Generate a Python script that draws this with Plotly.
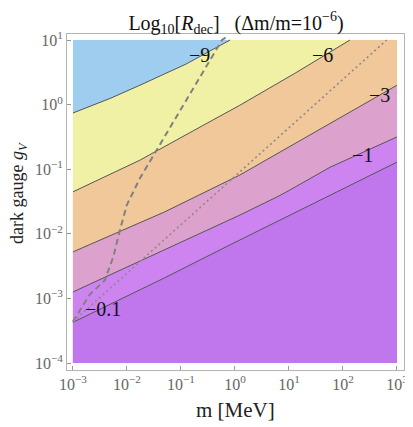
import numpy as np
import plotly.graph_objects as go

# ---- data (log10 m [MeV], log10 g_V) ----
level_names = ["−9", "−6", "−3", "−1", "−0.1"]

c9_logm = [-3.0, -2.3, -1.76, -0.9, -0.09]
c9_logg = [-0.13, 0.10, 0.30, 0.63, 1.0]

c6_logm = [-3.0, -1.76, -0.5, 0.09, 1.1, 2.13]
c6_logg = [-1.35, -0.86, -0.28, -0.01, 0.48, 1.0]

c3_logm = [-3.0, -1.3, 0.09, 1.5, 3.0]
c3_logg = [-2.28, -1.66, -1.09, -0.42, 0.30]

c1_logm = [-3.0, -1.3, 0.09, 0.8, 1.0, 1.76, 3.0]
c1_logg = [-2.90, -2.25, -1.71, -1.42, -1.33, -0.97, -0.50]

c01_logm = [-3.0, -1.3, -0.09, 2.72, 3.0]
c01_logg = [-3.37, -2.68, -2.17, -1.01, -0.89]

dashed_logm = [-3.0, -2.69, -2.41, -2.25, -2.13, -2.0, -1.76, -0.24, -0.15]
dashed_logg = [-3.36, -2.94, -2.72, -2.35, -1.94, -1.55, -1.14, 1.0, 1.05]

dotted_logm = [-3.0, 2.81]
dotted_logg = [-3.36, 1.0]

x_lo, x_hi = -3.0, 3.0
y_lo, y_hi = -4.0, 1.0

contours = [
    (c9_logm, c9_logg),
    (c6_logm, c6_logg),
    (c3_logm, c3_logg),
    (c1_logm, c1_logg),
    (c01_logm, c01_logg),
]

region_colors = ["#9fcdf0", "#f1f1a6", "#f0c899", "#dca2cd", "#cd84f0", "#c077ee"]
line_color = "#555555"
serif = "Liberation Serif, Times New Roman, serif"

fig = go.Figure()

fig.add_trace(go.Scatter(
    x=10.0 ** np.array([x_lo, x_hi, x_hi, x_lo, x_lo]),
    y=10.0 ** np.array([y_lo, y_lo, y_hi, y_hi, y_lo]),
    fill="toself", fillcolor=region_colors[0], mode="lines",
    line=dict(width=0, color=region_colors[0]), hoverinfo="skip", showlegend=False))

for (lm, lg), col in zip(contours, region_colors[1:]):
    px = list(lm)
    py = list(lg)
    if px[-1] < x_hi:
        px.append(x_hi); py.append(y_hi)
    px += [x_hi, x_lo, px[0]]
    py += [y_lo, y_lo, py[0]]
    fig.add_trace(go.Scatter(
        x=10.0 ** np.array(px), y=10.0 ** np.array(py),
        fill="toself", fillcolor=col, mode="lines",
        line=dict(width=0, color=col), hoverinfo="skip", showlegend=False))

for lm, lg in contours:
    fig.add_trace(go.Scatter(
        x=10.0 ** np.array(lm), y=10.0 ** np.array(lg), mode="lines",
        line=dict(color=line_color, width=1), hoverinfo="skip", showlegend=False))

fig.add_trace(go.Scatter(
    x=10.0 ** np.array(dashed_logm), y=10.0 ** np.array(dashed_logg), mode="lines",
    line=dict(color="#808080", width=2, dash="6px,4px"),
    hoverinfo="skip", showlegend=False))
fig.add_trace(go.Scatter(
    x=10.0 ** np.array(dotted_logm), y=10.0 ** np.array(dotted_logg), mode="lines",
    line=dict(color="#8a8a8a", width=1.6, dash="2px,3px"),
    hoverinfo="skip", showlegend=False))

label_x = [-0.65, 1.63, 2.67, 2.37, -2.44]
label_y = [0.77, 0.77, 0.15, -0.78, -3.16]
for t, lx, ly in zip(level_names, label_x, label_y):
    fig.add_annotation(x=lx, y=ly, xref="x", yref="y", text=t, showarrow=False,
                       font=dict(family=serif, size=20, color="#111"))

xt = [-3, -2, -1, 0, 1, 2, 3]
yt = [-4, -3, -2, -1, 0, 1]
def tl(v):
    return "10<sup>%s</sup>" % (str(v).replace("-", "−"))

common = dict(type="log", ticks="inside", ticklen=4, tickcolor="#999",
              showline=True, linecolor="#b3b3b3", linewidth=1, mirror=True,
              showgrid=False, zeroline=False, automargin=False,
              tickfont=dict(family=serif, size=16, color="#666"))
fig.update_xaxes(range=[-3.11, 3.13],
                 tickvals=[10.0 ** v for v in xt], ticktext=[tl(v) for v in xt], **common)
fig.update_yaxes(range=[-4.108, 1.093],
                 tickvals=[10.0 ** v for v in yt], ticktext=[tl(v) for v in yt], **common)

fig.add_annotation(x=0.5, y=-0.119, xref="paper", yref="paper", text="m [MeV]",
                   showarrow=False, xanchor="center", yanchor="middle",
                   font=dict(family=serif, size=21, color="#222"))
fig.add_annotation(x=-0.142, y=0.527, xref="paper", yref="paper",
                   text="dark gauge <i>g<sub>V</sub></i>", textangle=-90,
                   showarrow=False, xanchor="center", yanchor="middle",
                   font=dict(family=serif, size=18, color="#222"))

# the page body adds an 8px offset, so the figure is 8px smaller on each axis
fig.update_layout(
    width=405, height=419,
    margin=dict(l=59, r=9, t=26, b=57),
    paper_bgcolor="white", plot_bgcolor="white",
    title=dict(text="Log<sub>10</sub>[<i>R</i><sub>dec</sub>]   (Δm/m=10<sup>−6</sup>)",
               x=0.563, xanchor="center", y=0.965, yanchor="middle",
               font=dict(family=serif, size=20, color="#111")),
    showlegend=False,
)

fig.write_html("out.html")
